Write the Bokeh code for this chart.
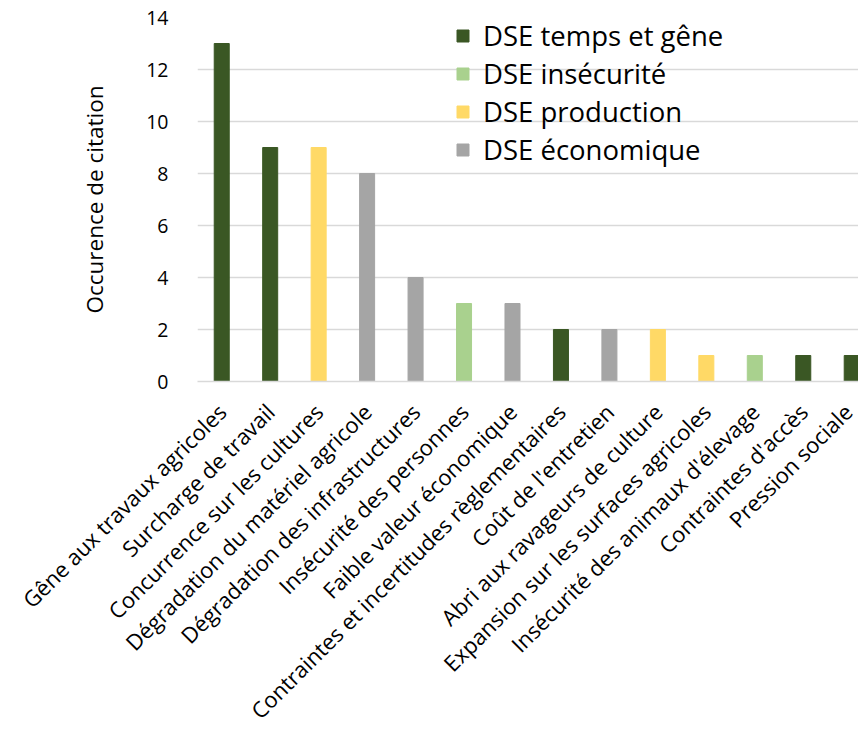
from math import pi
from bokeh.plotting import figure
from bokeh.models import (ColumnDataSource, Range1d, FixedTicker, Legend, LegendItem,
                          CDSView, GroupFilter)
from bokeh.embed import file_html
from bokeh.resources import INLINE

categories = [
    "Gêne aux travaux agricoles",
    "Surcharge de travail",
    "Concurrence sur les cultures",
    "Dégradation du matériel agricole",
    "Dégradation des infrastructures",
    "Insécurité des personnes",
    "Faible valeur économique",
    "Contraintes et incertitudes règlementaires",
    "Coût de l'entretien",
    "Abri aux ravageurs de culture",
    "Expansion sur les surfaces agricoles",
    "Insécurité des animaux d'élevage",
    "Contraintes d'accès",
    "Pression sociale",
]
values = [13, 9, 9, 8, 4, 3, 3, 2, 2, 2, 1, 1, 1, 1]
groups = [
    "DSE temps et gêne", "DSE temps et gêne", "DSE production", "DSE économique",
    "DSE économique", "DSE insécurité", "DSE économique", "DSE temps et gêne",
    "DSE économique", "DSE production", "DSE production", "DSE insécurité",
    "DSE temps et gêne", "DSE temps et gêne",
]
legend_groups = ["DSE temps et gêne", "DSE insécurité", "DSE production", "DSE économique"]
bar_colors = {
    "DSE temps et gêne": "#3A5724",
    "DSE insécurité": "#A9D18E",
    "DSE production": "#FFD966",
    "DSE économique": "#A5A5A5",
}
y_ticks = [0, 2, 4, 6, 8, 10, 12, 14]

FONT = "Open Sans"

x = list(range(len(categories)))
source = ColumnDataSource(dict(x=x, top=values, group=groups, cat=categories))

p = figure(width=858, height=739, output_backend="svg", toolbar_location=None,
           x_range=Range1d(-0.5, len(categories) - 1 + 0.14), y_range=Range1d(0, 14),
           min_border_left=197, min_border_right=0, min_border_top=17, min_border_bottom=358)
p.outline_line_color = None
p.background_fill_color = "white"

p.xgrid.grid_line_color = None
p.ygrid.grid_line_color = "#D9D9D9"
p.ygrid.grid_line_width = 1.3

items = []
for g in legend_groups:
    view = CDSView(filter=GroupFilter(column_name="group", group=g))
    r = p.vbar(x="x", top="top", width=0.31, color=bar_colors[g], source=source, view=view)
    items.append(LegendItem(label=g, renderers=[r]))

p.yaxis.ticker = FixedTicker(ticks=y_ticks)
p.xaxis.ticker = FixedTicker(ticks=x)
p.xaxis.major_label_overrides = {i: c for i, c in enumerate(categories)}
p.xaxis.major_label_orientation = pi / 4

for ax in (p.xaxis, p.yaxis):
    ax.major_tick_line_color = None
    ax.minor_tick_line_color = None
    ax.major_label_text_font = FONT
    ax.major_label_text_color = "#000000"
p.yaxis.major_label_text_font_size = "19.5px"
p.xaxis.major_label_text_font_size = "22px"
p.yaxis.axis_line_color = None
p.xaxis.axis_line_color = "#D9D9D9"
p.xaxis.axis_line_width = 1.3
p.yaxis.major_label_standoff = 23
p.xaxis.major_label_standoff = 20
p.yaxis.axis_label = "Occurence de citation"
p.yaxis.axis_label_text_font = FONT
p.yaxis.axis_label_text_font_style = "normal"
p.yaxis.axis_label_text_font_size = "22.5px"
p.yaxis.axis_label_text_color = "#000000"
p.yaxis.axis_label_standoff = 33

legend = Legend(items=items, location=(258, 213), orientation="vertical")
legend.background_fill_alpha = 0
legend.border_line_color = None
legend.glyph_width = 15
legend.glyph_height = 15
legend.label_height = 36
legend.label_standoff = 13
legend.spacing = 1
legend.padding = 0
legend.margin = 0
legend.label_text_font = FONT
legend.label_text_font_size = "27.5px"
legend.label_text_color = "#000000"
p.add_layout(legend, "center")

open("out.html", "w").write(file_html(p, INLINE))
